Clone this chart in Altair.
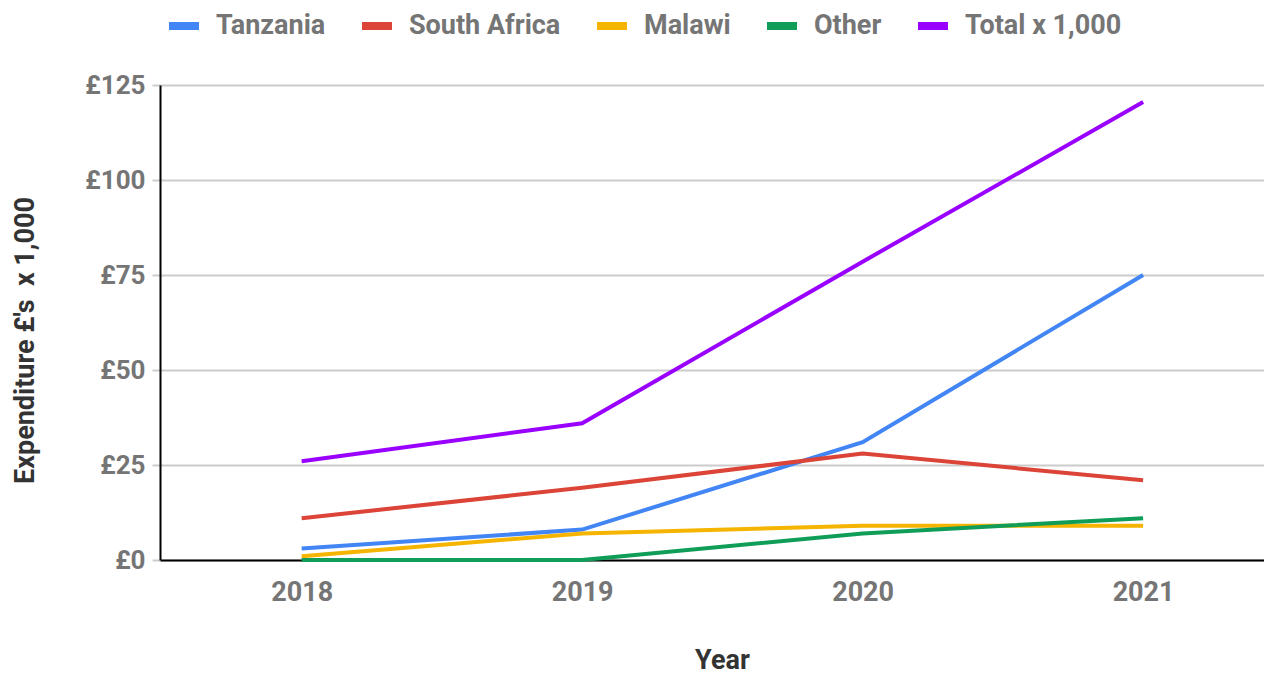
import altair as alt
import pandas as pd

years = [2018, 2019, 2020, 2021]
series_names = ["Tanzania", "South Africa", "Malawi", "Other", "Total x 1,000"]
tanzania = [3, 8, 31, 75]
south_africa = [11, 19, 28, 21]
malawi = [1, 7, 9, 9]
other = [0, 0, 7, 11]
total = [26, 36, 78.5, 120.5]
colors = ["#4285F4", "#DB4437", "#F4B400", "#0F9D58", "#9900FF"]
y_ticks = [0, 25, 50, 75, 100, 125]

rows = []
for name, vals in zip(series_names, [tanzania, south_africa, malawi, other, total]):
    for yr, v in zip(years, vals):
        rows.append({"Year": yr, "Series": name, "Value": v})
df = pd.DataFrame(rows)

FONT = "Roboto"
LABEL_GRAY = "#757575"
TITLE_GRAY = "#333333"

chart = alt.Chart(df).mark_line(strokeWidth=4, strokeCap="butt", strokeJoin="miter").encode(
    x=alt.X("Year:Q",
            scale=alt.Scale(domain=[2017.495, 2021.431], nice=False, zero=False),
            axis=alt.Axis(values=years, format="d", grid=False, ticks=False, tickSize=0,
                          domainColor="#000000", domainWidth=2,
                          labelFont=FONT, labelFontSize=27, labelFontWeight="bold",
                          labelColor=LABEL_GRAY, labelPadding=32, labelBaseline="middle",
                          title="Year", titleFont=FONT, titleFontSize=27, titleFontWeight="bold",
                          titleColor=TITLE_GRAY, titleX=562, titleY=100, titleBaseline="middle",
                          titleAlign="center")),
    y=alt.Y("Value:Q",
            scale=alt.Scale(domain=[0, 125], nice=False),
            axis=alt.Axis(values=y_ticks, labelExpr="'£' + datum.value",
                          grid=True, gridColor="#CCCCCC", gridWidth=2,
                          ticks=True, tickColor="#CCCCCC", tickSize=8, tickWidth=2,
                          domainColor="#000000", domainWidth=2,
                          labelFont=FONT, labelFontSize=26, labelFontWeight="bold",
                          labelColor=LABEL_GRAY, labelPadding=7, labelBaseline="middle",
                          title="Expenditure £'s\u00a0\u00a0x 1,000", titleFont=FONT,
                          titleFontSize=27, titleFontWeight="bold", titleColor=TITLE_GRAY,
                          titleX=-135, titleY=255, titleAngle=270, titleBaseline="middle",
                          titleAlign="center")),
    color=alt.Color("Series:N",
                    scale=alt.Scale(domain=series_names, range=colors),
                    legend=alt.Legend(orient="none", legendX=5, legendY=-78, direction="horizontal",
                                      title=None, symbolType="stroke",
                                      symbolSize=900, symbolStrokeWidth=8, symbolOpacity=1,
                                      labelFont=FONT, labelFontSize=27, labelFontWeight="bold",
                                      labelColor=LABEL_GRAY, labelOffset=13, columnPadding=20,
                                      labelLimit=400)),
    order=alt.Order("Series:N"),
).properties(
    width=1104, height=475,
    autosize=alt.AutoSizeParams(type="none"),
    padding={"left": 152, "top": 77, "right": 0, "bottom": 117},
).configure_view(stroke=None).configure(background="white")

chart.save("out.html", embed_options={"renderer": "svg", "actions": False})
